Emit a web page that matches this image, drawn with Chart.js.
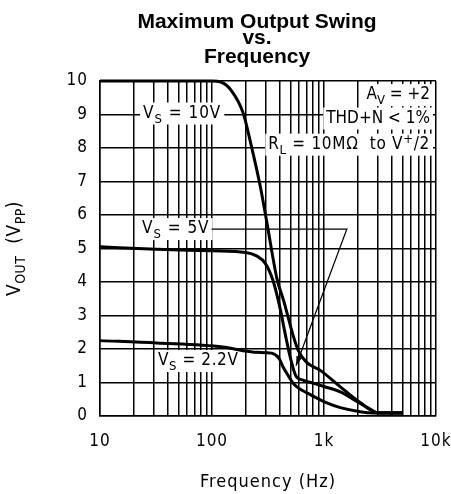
<!DOCTYPE html>
<html>
<head>
<meta charset="utf-8">
<script src="https://cdn.jsdelivr.net/npm/chart.js@4.4.0/dist/chart.umd.min.js"></script>
<style>
body { margin: 0; background: #fff; }
</style>
</head>
<body>
<canvas id="swing" width="451" height="494"></canvas>
<script>
// values (Hz, Vpp)
const freq10V = [10, 100, 120, 150, 190, 225, 270, 310, 380, 440, 520, 590, 700, 920, 1400, 2100, 3000, 5000]
const vout10V = [10, 10, 9.97, 9.7, 9.04, 8.05, 6.85, 5.75, 4.1, 3.4, 2.5, 1.95, 1.6, 1.37, 0.87, 0.4, 0.1, 0.1]

const freq5V = [10, 32, 100, 200, 250, 300, 350, 400, 460, 500, 560, 650, 800, 1000, 1400, 2000, 2600, 3000, 5000]
const vout5V = [5.05, 4.98, 4.93, 4.88, 4.78, 4.55, 4.05, 3.3, 2.3, 1.75, 1.2, 1.07, 0.98, 0.88, 0.72, 0.42, 0.2, 0.1, 0.1]

const freq22V = [10, 32, 125, 190, 250, 300, 360, 400, 430, 480, 530, 600, 705, 1060, 1400, 2100, 2800, 5000]
const vout22V = [2.25, 2.18, 2.06, 1.95, 1.9, 1.89, 1.85, 1.7, 1.47, 1.2, 0.98, 0.82, 0.69, 0.39, 0.25, 0.13, 0.09, 0.08]

const decadeTicks = [10, 100, 1000, 10000]
const decadeLabels = ['10', '100', '1k', '10k']
const voltTicks = [0, 1, 2, 3, 4, 5, 6, 7, 8, 9, 10]

const titleLines = ['Maximum Output Swing', 'vs.', 'Frequency']

let toPoints = (xs, ys) => xs.map((x, i) => ({x: x, y: ys[i]}))

const techFont = '"DejaVu Sans Condensed", "DejaVu Sans", sans-serif'
let mainFont = '17px ' + techFont
let smallFont = '13px ' + techFont

// text pieces: [text, 0 normal / 1 subscript / 2 superscript]
let drawRich = (ctx, parts, x, y, align, bg, ls) => {
    ctx.letterSpacing = (ls ?? 1) + 'px'
    let w = 0
    parts.forEach(p => {
        ctx.font = p[1] ? smallFont : mainFont
        w += ctx.measureText(p[0]).width
    })
    let x0 = align == 'right' ? x - w : (align == 'center' ? x - w / 2 : x)
    if (bg) {
        ctx.fillStyle = '#fff'
        ctx.fillRect(x0 - 3, y - 11, w + 6, 22)
    }
    ctx.fillStyle = '#000'
    ctx.textBaseline = 'middle'
    ctx.textAlign = 'left'
    parts.forEach(p => {
        ctx.font = p[1] ? smallFont : mainFont
        let dy = p[1] == 1 ? 6 : (p[1] == 2 ? -5 : 0)
        ctx.fillText(p[0], x0, y + dy)
        x0 += ctx.measureText(p[0]).width
    })
    return x0
}

let notes = [
    {f: 24.2, v: 9.03, align: 'left', ls: 1, parts: [['V', 0], ['S', 1], [' = 10V', 0]]},
    {f: 32.9, v: 1.64, align: 'left', ls: 0.6, parts: [['V', 0], ['S', 1], [' = 2.2V', 0]]},
    {f: 8830, v: 9.58, align: 'right', ls: 0, parts: [['A', 0], ['V', 1], [' = +2', 0]]},
    {f: 8830, v: 8.88, align: 'right', ls: 0, parts: [['THD+N < 1%', 0]]},
    {f: 8830, v: 8.1, align: 'right', ls: 0.7, parts: [['R', 0], ['L', 1], [' = 10MΩ  to V', 0], ['+', 2], ['/2', 0]]}
]
let label5V = {f: 23.7, v: 5.58, parts: [['V', 0], ['S', 1], [' = 5V', 0]]}
let leaderCorner = {f: 1600, v: 5.58}
let leaderTip = {f: 562, v: 1.5}

let textPlugin = {
    id: 'textPlugin',
    beforeDraw: (chart) => {
        let ctx = chart.ctx
        ctx.save()
        ctx.fillStyle = '#fff'
        ctx.fillRect(0, 0, chart.width, chart.height)
        ctx.restore()
        // the sheet's lettering is a bit wider than DejaVu
        ctx.letterSpacing = '1px'
    },
    beforeDatasetsDraw: (chart) => {
        let ctx = chart.ctx
        let xs = chart.scales.x
        let ys = chart.scales.y
        ctx.save()
        notes.forEach(n => {
            drawRich(ctx, n.parts, xs.getPixelForValue(n.f), ys.getPixelForValue(n.v), n.align, true, n.ls)
        })
        let endX = drawRich(ctx, label5V.parts, xs.getPixelForValue(label5V.f), ys.getPixelForValue(label5V.v), 'left', true, 1)
        chart.$labelEnd = endX
        ctx.restore()
    },
    afterDatasetsDraw: (chart) => {
        let ctx = chart.ctx
        let xs = chart.scales.x
        let ys = chart.scales.y
        let y0 = ys.getPixelForValue(label5V.v)
        let cx = xs.getPixelForValue(leaderCorner.f)
        let tx = xs.getPixelForValue(leaderTip.f)
        let ty = ys.getPixelForValue(leaderTip.v)
        ctx.save()
        ctx.strokeStyle = '#000'
        ctx.lineWidth = 1.2
        ctx.beginPath()
        ctx.moveTo(chart.$labelEnd + 2, y0)
        ctx.lineTo(cx, y0)
        ctx.lineTo(tx, ty)
        ctx.stroke()
        // arrow head
        let ang = Math.atan2(ty - y0, tx - cx)
        ctx.fillStyle = '#000'
        ctx.beginPath()
        ctx.moveTo(tx, ty)
        ctx.lineTo(tx - 10 * Math.cos(ang - 0.3), ty - 10 * Math.sin(ang - 0.3))
        ctx.lineTo(tx - 10 * Math.cos(ang + 0.3), ty - 10 * Math.sin(ang + 0.3))
        ctx.closePath()
        ctx.fill()

        // chart title
        ctx.letterSpacing = '0px'
        ctx.font = 'bold 21px "Liberation Sans", Arial, sans-serif'
        ctx.textAlign = 'center'
        ctx.textBaseline = 'alphabetic'
        let baselines = [28, 44, 63]
        titleLines.forEach((t, i) => ctx.fillText(t, 257, baselines[i]))

        // y axis title with subscripts
        ctx.translate(22, ys.getPixelForValue(5))
        ctx.rotate(-Math.PI / 2)
        mainFont = '19px ' + techFont
        smallFont = '14px ' + techFont
        drawRich(ctx, [['V', 0], ['OUT', 1], ['  (V', 0], ['PP', 1], [')', 0]], 0, -7, 'center', false, 0.5)
        mainFont = '17px ' + techFont
        smallFont = '13px ' + techFont
        ctx.restore()
    }
}

let minorTicks = []
decadeTicks.forEach((d, i) => {
    minorTicks.push(d)
    if (i < decadeTicks.length - 1) {
        for (let m = 2; m < 10; m++) minorTicks.push(d * m)
    }
})

let lineSet = (pts) => ({
    data: pts,
    borderColor: '#000',
    borderWidth: 3,
    pointRadius: 0,
    fill: false,
    cubicInterpolationMode: 'monotone',
    clip: 6
})

let swingChart = new Chart(document.getElementById('swing'), {
    type: 'line',
    data: {
        datasets: [
            lineSet(toPoints(freq10V, vout10V)),
            lineSet(toPoints(freq5V, vout5V)),
            lineSet(toPoints(freq22V, vout22V))
        ]
    },
    options: {
        responsive: false,
        animation: false,
        layout: {padding: {top: 81, right: 0, left: 0, bottom: 0}},
        plugins: {
            legend: {display: false},
            tooltip: {enabled: false},
            title: {display: false}
        },
        scales: {
            x: {
                type: 'logarithmic',
                min: 10,
                max: 10000,
                afterBuildTicks: (scale) => {
                    scale.ticks = minorTicks.map(v => ({value: v}))
                },
                afterFit: (scale) => {
                    scale.height = 78
                    scale.paddingLeft = 0
                    scale.paddingRight = 15
                },
                ticks: {
                    autoSkip: false,
                    maxRotation: 0,
                    color: '#000',
                    padding: 15,
                    font: {family: techFont, size: 17},
                    callback: (value) => {
                        let i = decadeTicks.indexOf(value)
                        return i >= 0 ? decadeLabels[i] : ''
                    }
                },
                grid: {color: '#000', lineWidth: 1.5, drawTicks: false},
                border: {color: '#000', width: 1.5},
                title: {
                    display: true,
                    text: 'Frequency (Hz)',
                    color: '#000',
                    font: {family: techFont, size: 18},
                    padding: {top: 0, bottom: 1}
                }
            },
            y: {
                min: 0,
                max: 10,
                afterBuildTicks: (scale) => {
                    scale.ticks = voltTicks.map(v => ({value: v}))
                },
                afterFit: (scale) => { scale.width = 100 },
                ticks: {
                    color: '#000',
                    padding: 12,
                    font: {family: techFont, size: 17}
                },
                grid: {color: '#000', lineWidth: 1.5, drawTicks: false},
                border: {color: '#000', width: 1.5}
            }
        }
    },
    plugins: [textPlugin]
})
</script>
</body>
</html>
